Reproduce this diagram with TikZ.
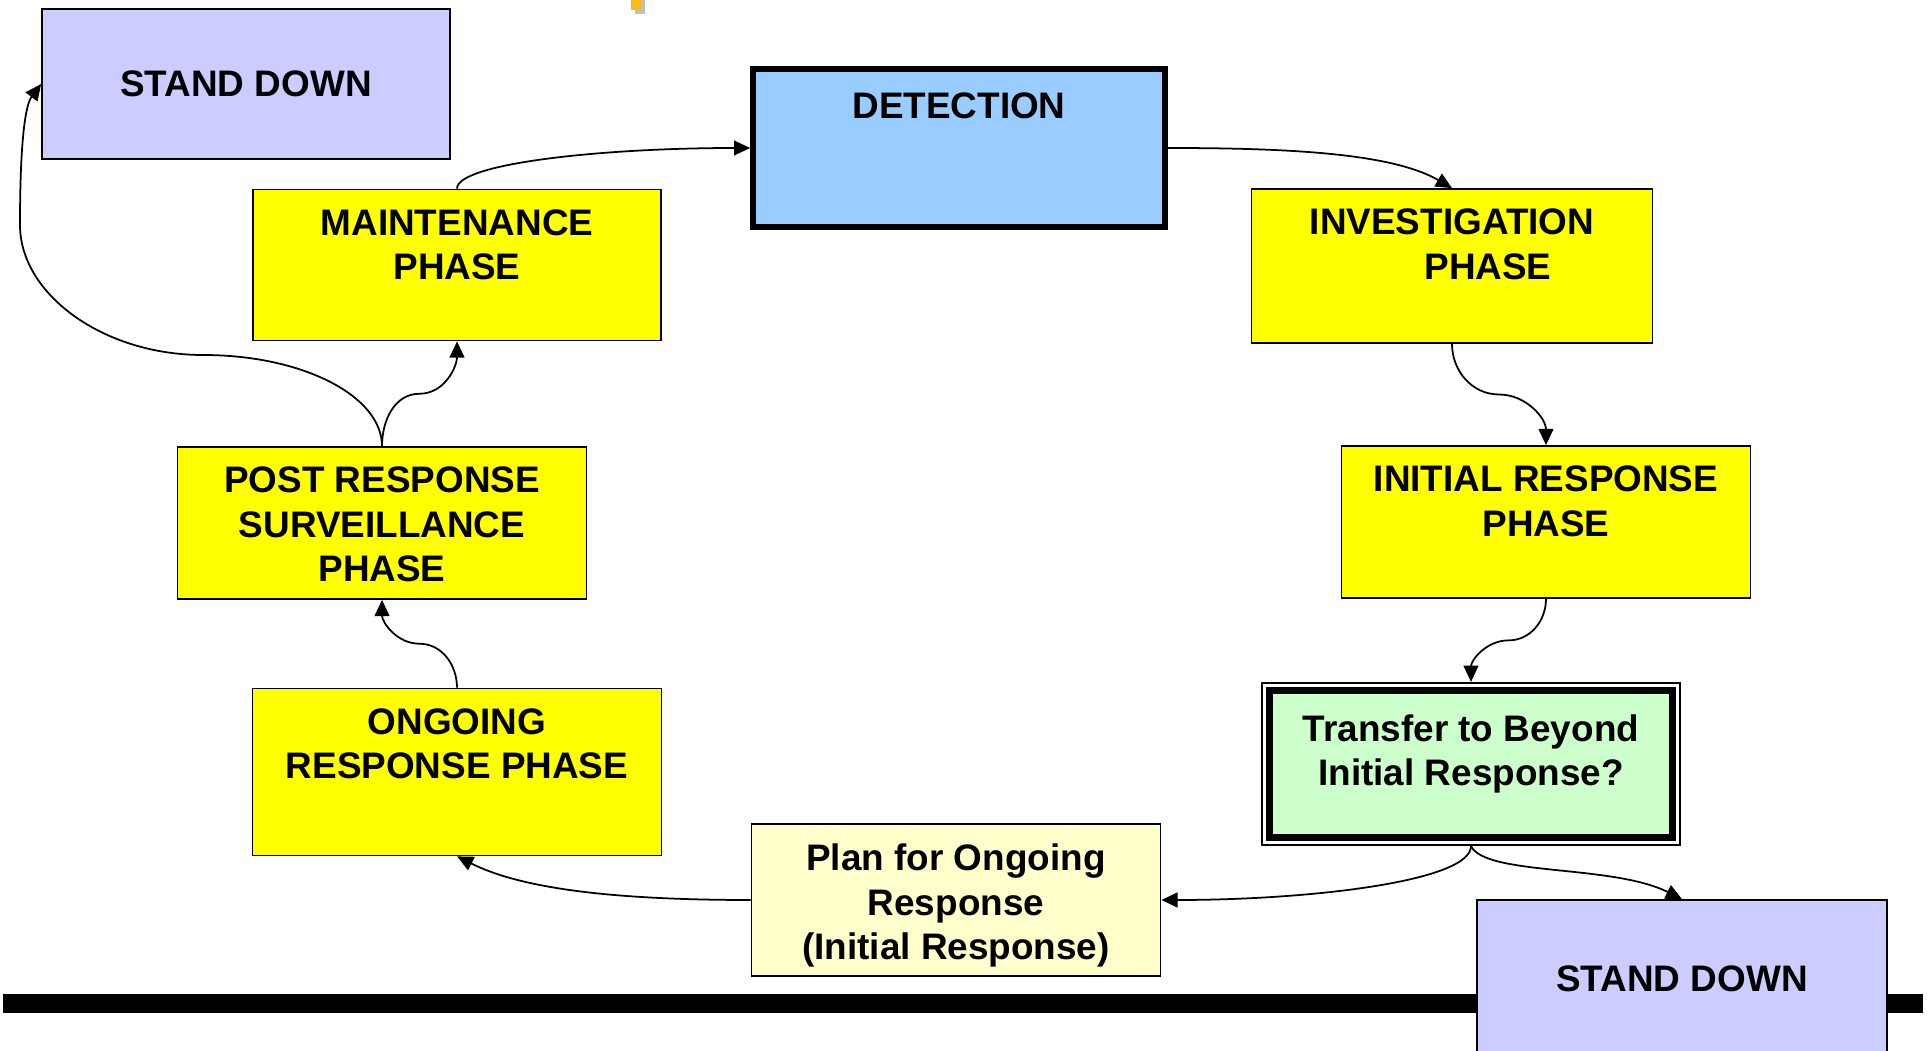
\documentclass[tikz,border=0pt]{standalone}
\usepackage{fontspec}
\setmainfont{Liberation Sans}
\usepackage{tikz}
\usetikzlibrary{arrows.meta, positioning, calc, fit}
\definecolor{lavender}{RGB}{204, 204, 255}
\definecolor{skyblue}{RGB}{153, 204, 255}
\definecolor{phaseyellow}{RGB}{255, 255, 0}
\definecolor{mint}{RGB}{204, 255, 204}
\definecolor{cream}{RGB}{255, 255, 204}
\definecolor{marker}{RGB}{255, 185, 20}
\tikzstyle{box} = [rectangle, draw=black, line width=0.5pt, inner sep=0pt, font=\bfseries\fontsize{10.5}{12.65}\selectfont]
\tikzstyle{phasebox} = [box, fill=phaseyellow, minimum width=4.09cm, minimum height=1.52cm]
\tikzstyle{flow} = [line width=0.5pt, -{Triangle[length=4.6pt, width=4.2pt]}]
\tikzset{boxtext/.style={align=center, inner sep=0pt, font=\bfseries\fontsize{10.5}{12.65}\selectfont, below=#1}, boxtext/.default=5.8pt}

\begin{document}
\begin{tikzpicture}
    % Page
    \fill[white] (0, 0) rectangle (19.27, 10.5);
    \useasboundingbox (0, 0) rectangle (19.27, 10.5);

    % Marker in the top margin
    \fill[gray!50] (6.35, 10.5) rectangle (6.45, 10.36);
    \fill[marker] (6.31, 10.5) rectangle (6.41, 10.40);

    % Base line
    \fill[black] (0.03, 0.56) rectangle (19.23, 0.37);

    % Stand down boxes
    \node[box, fill=lavender, minimum width=4.08cm, minimum height=1.50cm] (sdtop) at (2.46, 9.66) {STAND DOWN};
    \node[box, fill=lavender, minimum width=4.10cm, minimum height=1.58cm] (sdbottom) at (16.82, 0.71) {STAND DOWN};

    % Detection
    \node[box, fill=skyblue, line width=1.6pt, minimum width=4.12cm, minimum height=1.58cm,
          label={[boxtext=7.3pt]north:DETECTION}] (detect) at (9.59, 9.02) {};

    % Phases
    \node[phasebox, minimum width=4.08cm, minimum height=1.51cm,
          label={[boxtext]north:MAINTENANCE\\PHASE}] (maint) at (4.57, 7.85) {};
    \node[phasebox, minimum width=4.01cm, minimum height=1.54cm,
          label={[boxtext]north:INVESTIGATION\\\hspace*{0.72cm}PHASE}] (invest) at (14.52, 7.84) {};
    \node[phasebox, label={[boxtext]north:POST RESPONSE\\SURVEILLANCE\\PHASE}] (post) at (3.82, 5.27) {};
    \node[phasebox, label={[boxtext]north:INITIAL RESPONSE\\PHASE}] (initial) at (15.46, 5.28) {};
    \node[phasebox, minimum height=1.67cm,
          label={[boxtext]north:ONGOING\\RESPONSE PHASE}] (ongoing) at (4.57, 2.78) {};

    % Decision and plan
    \node[box, fill=mint, line width=2pt, minimum width=4.03cm, minimum height=1.47cm,
          label={[boxtext=7.6pt]north:Transfer to Beyond\\Initial Response?}] (transfer) at (14.71, 2.86) {};
    \node[draw, line width=0.5pt, inner sep=1.2pt, fit=(transfer)] (transframe) {};
    \node[box, fill=cream, minimum width=4.09cm, minimum height=1.52cm,
          label={[boxtext]north:Plan for Ongoing\\Response\\(Initial Response)}] (plan) at (9.56, 1.50) {};

    % Cycle connectors
    \draw[flow] (maint.north) .. controls +(0, 0.25) and +(-1.5, 0) .. (detect.west);
    \draw[flow] (detect.east) .. controls +(1.2, 0) and +(-0.6, 0.35) .. (invest.north);
    \draw[flow] (invest.south) to[out=-90, in=180] ($(invest.south)!0.5!(initial.north)$) to[out=0, in=90] (initial.north);
    \draw[flow] (initial.south) to[out=-90, in=0] ($(initial.south)!0.5!(transframe.north)$) to[out=180, in=90] (transframe.north);
    \draw[flow] (transframe.south) .. controls +(0, -0.35) and +(1.5, 0) .. (plan.east);
    \draw[flow] (transframe.south) .. controls +(0.15, -0.3) and +(-0.7, 0.35) .. (sdbottom.north);
    \draw[flow] (plan.west) .. controls +(-1.5, 0) and +(0.6, -0.3) .. (ongoing.south);
    \draw[flow] (ongoing.north) to[out=90, in=0] ($(ongoing.north)!0.5!(post.south)$) to[out=180, in=-90] (post.south);
    \draw[flow] (post.north) to[out=90, in=180] ($(post.north)!0.5!(maint.south)$) to[out=0, in=-90] (maint.south);

    % Back to stand down
    \coordinate (sdbend) at (2.03, 6.95);
    \coordinate (sdrise) at (0.20, 8.25);
    \draw[flow] (post.north) .. controls +(0, 0.5) and +(1.0, 0) .. (sdbend)
        .. controls +(-1.0, 0) and +(0, -0.69) .. (sdrise)
        .. controls +(0, 0.9) and +(-0.15, -0.2) .. (sdtop.west);
\end{tikzpicture}
\end{document}
